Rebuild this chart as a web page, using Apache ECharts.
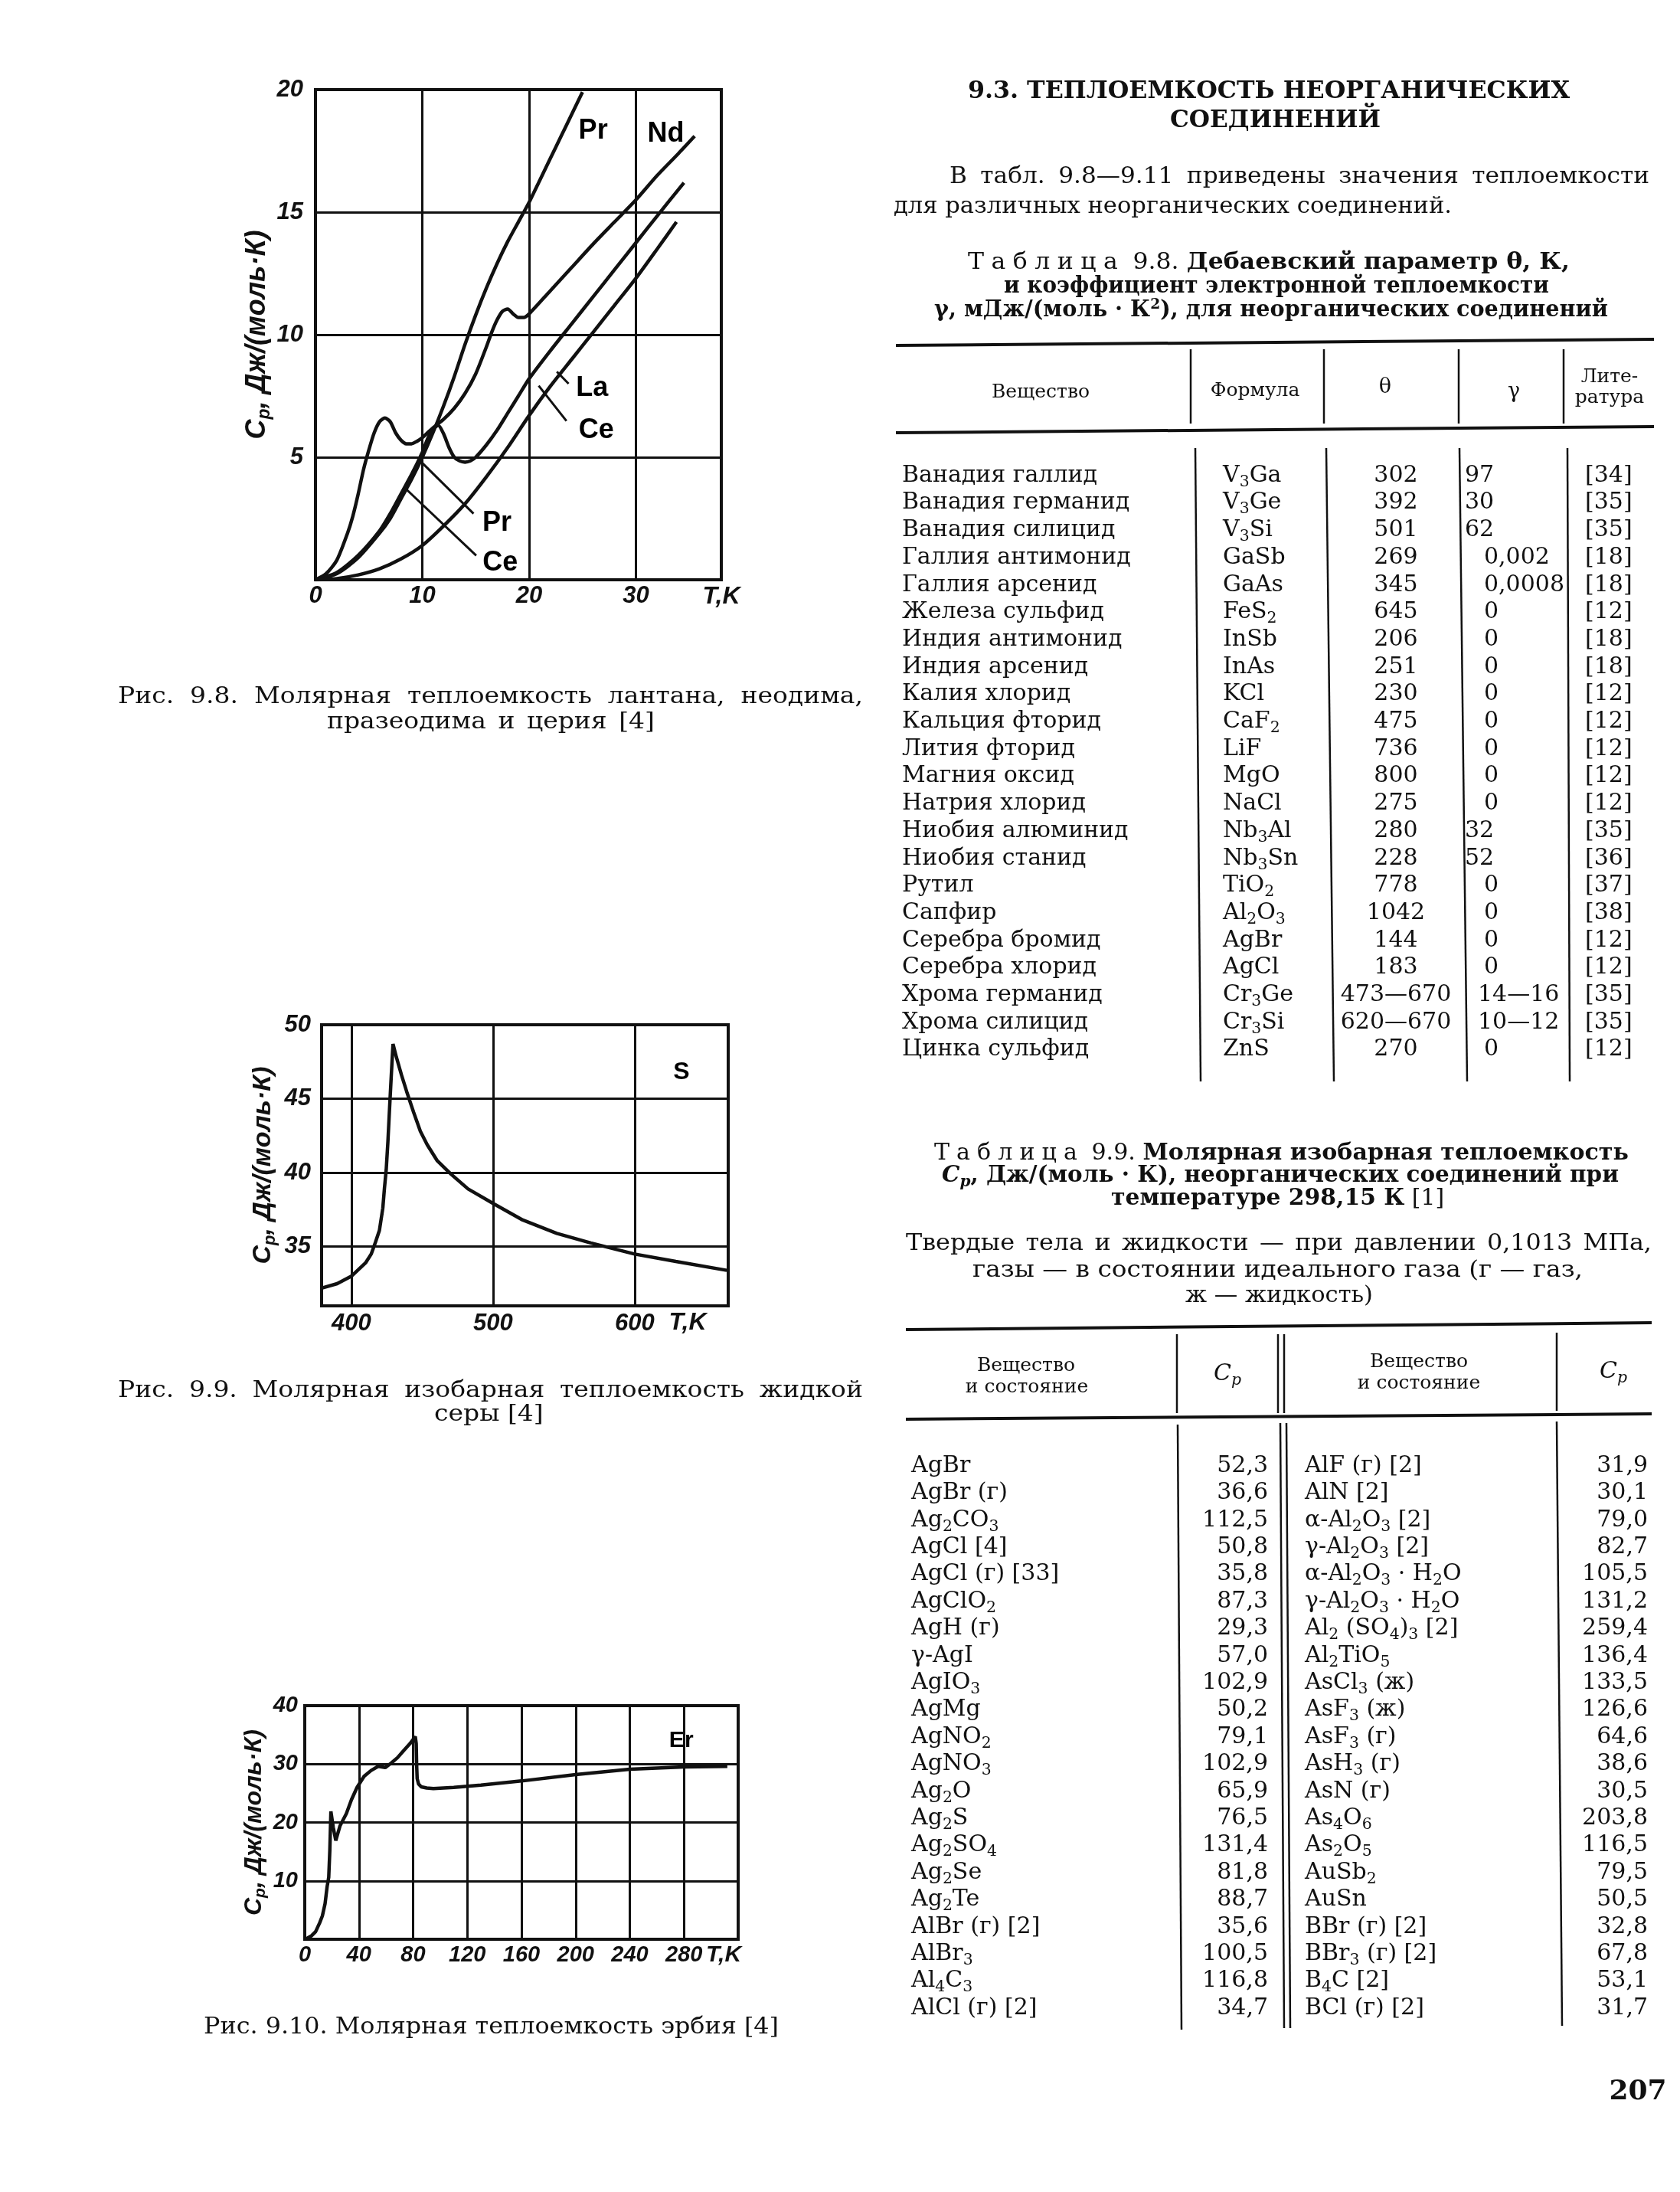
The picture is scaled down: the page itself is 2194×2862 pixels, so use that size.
<!DOCTYPE html>
<html lang="ru">
<head>
<meta charset="utf-8">
<title>9.3. Теплоемкость неорганических соединений</title>
<script src="https://cdn.jsdelivr.net/npm/echarts@6/dist/echarts.min.js"></script>
<style>
html,body{margin:0;padding:0;background:#fff;}
#page{position:relative;width:2194px;height:2862px;overflow:hidden;background:#fff;}
#chart{position:absolute;left:0;top:0;width:2194px;height:2862px;z-index:1;}
#rules{position:absolute;left:0;top:0;width:2194px;height:2862px;z-index:2;pointer-events:none;}
#txt{position:absolute;left:0;top:0;width:2194px;height:2862px;z-index:3;pointer-events:none;}
.t{position:absolute;white-space:nowrap;font-family:"DejaVu Serif","Liberation Serif",serif;color:#111;}
.t sub{font-size:0.68em;vertical-align:-0.3em;line-height:0;}
.t sup{font-size:0.65em;vertical-align:0.55em;line-height:0;}
.sp{letter-spacing:0.3em;font-weight:normal;}
</style>
</head>
<body>
<div id="page">
  <div id="chart"></div>
  <svg id="rules" width="2194" height="2862" xmlns="http://www.w3.org/2000/svg"></svg>
  <div id="txt"></div>
</div>
<script>
// ---------------- Рис. 9.8 : Cp (Дж/(моль·К)) vs T (K) ----------------
const prData = [[0,0],[2,0.25],[4,0.9],[6,1.9],[7,2.5],[8,3.3],[9,4.1],[10,5.0],[11,6.0],[12,7.1],[13,8.3],[14,9.6],[15,10.8],[16,11.9],[17,12.9],[18,13.8],[19,14.6],[20,15.4],[21,16.3],[22,17.2],[23,18.1],[24,19.0],[25,19.9]];
const ndData = [[0,0],[1,0.25],[2,0.8],[3,1.9],[3.5,2.6],[4,3.5],[4.5,4.5],[5,5.3],[5.5,6.0],[6,6.45],[6.5,6.6],[7,6.45],[7.5,6.0],[8,5.7],[8.5,5.55],[9,5.55],[9.5,5.65],[10,5.8],[10.5,6.0],[11,6.2],[12,6.55],[13,7.0],[14,7.6],[15,8.4],[16,9.5],[16.5,10.1],[17,10.6],[17.5,10.95],[18,11.05],[18.5,10.85],[19,10.7],[19.5,10.7],[20,10.85],[22,11.8],[24,12.75],[26,13.7],[28,14.6],[30,15.5],[32,16.5],[34,17.4],[35.5,18.1]];
const ceData = [[0,0],[2,0.3],[4,1.0],[6,2.0],[7,2.7],[8,3.5],[9,4.3],[10,5.2],[10.5,5.75],[11,6.15],[11.5,6.3],[12,5.95],[12.5,5.4],[13,5.0],[13.5,4.85],[14,4.8],[14.5,4.85],[15,5.0],[16,5.5],[17,6.1],[18,6.8],[19,7.5],[20,8.2],[22,9.35],[24,10.45],[26,11.55],[28,12.65],[30,13.75],[32,14.85],[34.5,16.2]];
const laData = [[0,0],[2,0.05],[4,0.2],[6,0.45],[8,0.85],[10,1.4],[12,2.2],[14,3.1],[16,4.2],[18,5.4],[20,6.7],[22,7.9],[24,9.0],[26,10.1],[28,11.2],[30,12.3],[32,13.5],[33.8,14.6]];
const curveLabels98 = [['Pr',26.0,18.3],['Nd',32.8,18.2],['La',25.9,7.8],['Ce',26.3,6.1],['Pr',17.0,2.3],['Ce',17.3,0.67]];
const leaders98 = [[[22.6,8.49],[23.7,8.0]],[[20.9,7.92],[23.5,6.48]],[[9.9,4.81],[14.8,2.7]],[[8.27,3.79],[15.05,0.99]]];

// ---------------- Рис. 9.9 : жидкая сера ----------------
const sData = [[379,32.2],[390,32.5],[400,33.0],[410,33.9],[414,34.5],[417,35.3],[419.8,36.1],[422.2,37.6],[423.4,39.0],[424.6,40.2],[425.8,42.1],[427,44.4],[428.2,46.6],[429.4,48.7],[431.8,47.8],[435.4,46.6],[439,45.5],[443.9,44.1],[448.7,42.8],[453.5,41.9],[460.7,40.8],[470.4,39.9],[482.4,38.9],[500.5,37.9],[521,36.8],[545,35.9],[569,35.25],[600,34.5],[629,34.0],[665,33.4]];
const tempTicks99 = [400,500,600];
const cpTicks99 = [35,40,45,50];
const curveLabels99 = [['S',633,46.8]];

// ---------------- Рис. 9.10 : эрбий ----------------
const erData = [[0,0],[2,0.2],[5,0.6],[8,1.3],[11,2.8],[13,4.0],[15,6.1],[16.5,9.0],[17.7,10.6],[18.5,15.2],[19.3,21.9],[21,19.2],[22.9,16.9],[26,19.4],[30.7,21.5],[34.5,23.9],[38.6,26.0],[43.8,27.9],[49,28.9],[54.2,29.6],[59.4,29.4],[64,30.2],[68.5,31.1],[73,32.3],[77.7,33.5],[81.6,34.7],[82.3,33.5],[82.6,30.0],[83,27.5],[84,26.6],[86,26.1],[90,25.9],[95,25.8],[110,26.0],[130,26.4],[160,27.1],[200,28.2],[240,29.1],[280,29.5],[312,29.6]];
const curveLabels910 = [['Er',278,34.0]];

// ---------------- Таблица 9.8 ----------------
const t98Names = ['Ванадия галлид','Ванадия германид','Ванадия силицид','Галлия антимонид','Галлия арсенид','Железа сульфид','Индия антимонид','Индия арсенид','Калия хлорид','Кальция фторид','Лития фторид','Магния оксид','Натрия хлорид','Ниобия алюминид','Ниобия станид','Рутил','Сапфир','Серебра бромид','Серебра хлорид','Хрома германид','Хрома силицид','Цинка сульфид'];
const t98Formulas = ['V3Ga','V3Ge','V3Si','GaSb','GaAs','FeS2','InSb','InAs','KCl','CaF2','LiF','MgO','NaCl','Nb3Al','Nb3Sn','TiO2','Al2O3','AgBr','AgCl','Cr3Ge','Cr3Si','ZnS'];
const t98Theta = ['302','392','501','269','345','645','206','251','230','475','736','800','275','280','228','778','1042','144','183','473—670','620—670','270'];
const t98Gamma = ['97','30','62','0,002','0,0008','0','0','0','0','0','0','0','0','32','52','0','0','0','0','14—16','10—12','0'];
const t98Refs = ['[34]','[35]','[35]','[18]','[18]','[12]','[18]','[18]','[12]','[12]','[12]','[12]','[12]','[35]','[36]','[37]','[38]','[12]','[12]','[35]','[35]','[12]'];

// ---------------- Таблица 9.9 ----------------
const t99LeftNames = ['AgBr','AgBr (г)','Ag2CO3','AgCl [4]','AgCl (г) [33]','AgClO2','AgH (г)','γ-AgI','AgIO3','AgMg','AgNO2','AgNO3','Ag2O','Ag2S','Ag2SO4','Ag2Se','Ag2Te','AlBr (г) [2]','AlBr3','Al4C3','AlCl (г) [2]'];
const t99LeftCp = ['52,3','36,6','112,5','50,8','35,8','87,3','29,3','57,0','102,9','50,2','79,1','102,9','65,9','76,5','131,4','81,8','88,7','35,6','100,5','116,8','34,7'];
const t99RightNames = ['AlF (г) [2]','AlN [2]','α-Al2O3 [2]','γ-Al2O3 [2]','α-Al2O3 · H2O','γ-Al2O3 · H2O','Al2 (SO4)3 [2]','Al2TiO5','AsCl3 (ж)','AsF3 (ж)','AsF3 (г)','AsH3 (г)','AsN (г)','As4O6','As2O5','AuSb2','AuSn','BBr (г) [2]','BBr3 (г) [2]','B4C [2]','BCl (г) [2]'];
const t99RightCp = ['31,9','30,1','79,0','82,7','105,5','131,2','259,4','136,4','133,5','126,6','64,6','38,6','30,5','203,8','116,5','79,5','50,5','32,8','67,8','53,1','31,7'];

// ================= ECharts =================
const chart = echarts.init(document.getElementById('chart'), null, {renderer:'canvas'});
const INK = '#111';
const lab = {color:INK, fontFamily:'Liberation Sans', fontStyle:'italic', fontWeight:'bold', fontSize:31};
const mkGrid = (l,t,w,h) => ({left:l, top:t, width:w, height:h, show:true, borderColor:INK, borderWidth:4, backgroundColor:'rgba(0,0,0,0)', containLabel:false});
const split = {show:true, lineStyle:{color:INK, width:3, type:'solid'}};
const noLine = {show:false};
const nameRich = (fs) => ({
  a:{fontFamily:'Liberation Sans', fontStyle:'italic', fontWeight:'bold', fontSize:fs, color:INK, lineHeight:fs+6, verticalAlign:'middle'},
  b:{fontFamily:'Liberation Sans', fontStyle:'italic', fontWeight:'bold', fontSize:Math.round(fs*0.65), color:INK, lineHeight:12, verticalAlign:'bottom'}
});
const yName = '{a|C}{b|p}{a|, Дж/(моль·К)}';
const tkName = (gap, fs) => ({name:'T,K', nameLocation:'end', nameGap:gap,
  nameTextStyle:{...lab, fontSize:fs, align:'center', verticalAlign:'top', padding:[6,0,0,0]}});
const lineS = (name, data, idx, smooth) => ({type:'line', name, xAxisIndex:idx, yAxisIndex:idx, data,
  showSymbol:false, symbol:'none', smooth:smooth, lineStyle:{color:INK, width:4.5}, z:5, silent:true, clip:true});
const labelS = (arr, idx, fs) => ({type:'scatter', xAxisIndex:idx, yAxisIndex:idx, symbolSize:1, silent:true, z:6,
  itemStyle:{color:'rgba(0,0,0,0)'}, data: arr.map(c => ({name:c[0], value:[c[1], c[2]]})),
  label:{show:true, position:'inside', formatter:'{b}', color:'#000', opacity:1, textBorderWidth:0, textBorderColor:'rgba(0,0,0,0)',
    textShadowBlur:0, fontFamily:'Liberation Sans', fontWeight:'bold', fontSize:fs}});

const option = {
  animation:false,
  backgroundColor:'#fff',
  grid:[ mkGrid(412,117,530,640), mkGrid(420,1338,531,367), mkGrid(398,2227,566,305) ],
  xAxis:[
    {gridIndex:0, type:'value', min:0, max:38, interval:10, axisLine:noLine, axisTick:noLine, splitLine:split,
     axisLabel:{...lab, margin:6, showMaxLabel:false}, ...tkName(0,32)},
    {gridIndex:1, type:'value', min:379, max:666, axisLine:noLine, axisTick:{show:false, customValues:tempTicks99}, splitLine:noLine,
     axisLabel:{...lab, margin:8, customValues:tempTicks99}, ...tkName(-53,32)},
    {gridIndex:2, type:'value', min:0, max:320, interval:40, axisLine:noLine, axisTick:noLine, splitLine:split,
     axisLabel:{...lab, fontSize:29, margin:6, showMaxLabel:false}, ...tkName(-19,30)}
  ],
  yAxis:[
    {gridIndex:0, type:'value', min:0, max:20, interval:5, axisLine:noLine, axisTick:noLine, splitLine:split,
     axisLabel:{...lab, margin:16, showMinLabel:false},
     name:yName, nameLocation:'middle', nameRotate:90, nameGap:76, nameTextStyle:{rich:nameRich(36), align:'center', verticalAlign:'middle'}},
    {gridIndex:1, type:'value', min:31, max:50, axisLine:noLine, axisTick:{show:false, customValues:cpTicks99}, splitLine:noLine,
     axisLabel:{...lab, margin:14, customValues:cpTicks99},
     name:yName, nameLocation:'middle', nameRotate:90, nameGap:76, nameTextStyle:{rich:nameRich(34), align:'center', verticalAlign:'middle'}},
    {gridIndex:2, type:'value', min:0, max:40, interval:10, axisLine:noLine, axisTick:noLine, splitLine:split,
     axisLabel:{...lab, fontSize:29, margin:9, showMinLabel:false},
     name:yName, nameLocation:'middle', nameRotate:90, nameGap:66, nameTextStyle:{rich:nameRich(32), align:'center', verticalAlign:'middle'}}
  ],
  series:[
    lineS('Pr', prData, 0, 0.25),
    lineS('Nd', ndData, 0, 0.25),
    lineS('Ce', ceData, 0, 0.25),
    Object.assign(lineS('La', laData, 0, 0.25), {markLine:{silent:true, symbol:['none','none'], label:{show:false},
      lineStyle:{color:INK, width:3, type:'solid'}, emphasis:{disabled:true},
      data: leaders98.map(p => [{coord:p[0]}, {coord:p[1]}])}}),
    labelS(curveLabels98, 0, 36),
    Object.assign(lineS('S', sData, 1, false), {markLine:{silent:true, symbol:['none','none'], label:{show:false},
      lineStyle:{color:INK, width:3, type:'solid'}, emphasis:{disabled:true},
      data: tempTicks99.map(v => ({xAxis:v})).concat(cpTicks99.filter(v => v < 50).map(v => ({yAxis:v})))}}),
    labelS(curveLabels99, 1, 32),
    lineS('Er', erData, 2, false),
    labelS(curveLabels910, 2, 30)
  ]
};
chart.setOption(option);

// ================= page text =================
const layer = document.getElementById('txt');
const svg = document.getElementById('rules');
function chem(s){ return s.replace(/([A-Za-z\)])(\d+)/g, '$1<sub>$2</sub>'); }
function T(html, x, y, o){
  o = o || {};
  const size = o.size || 30;
  const sx = o.sx || 1;
  const d = document.createElement('div');
  d.className = 't';
  d.innerHTML = html;
  d.style.fontSize = size + 'px';
  d.style.lineHeight = Math.round(size*1.15) + 'px';
  if (o.bold) d.style.fontWeight = 'bold';
  if (o.italic) d.style.fontStyle = 'italic';
  layer.appendChild(d);
  const r = d.getBoundingClientRect();
  const nat = r.width, h = r.height;
  let W = nat * sx;
  d.style.transformOrigin = '0 50%';
  if (o.w) {
    W = o.w;
    if (o.justify && nat * sx < o.w - 2) {
      d.style.whiteSpace = 'normal';
      d.style.width = (o.w / sx) + 'px';
      d.style.textAlign = 'justify';
      d.style.textAlignLast = 'justify';
      if (sx !== 1) d.style.transform = 'scaleX(' + sx + ')';
    } else {
      d.style.transform = 'scaleX(' + (o.w / nat).toFixed(4) + ')';
    }
  } else if (sx !== 1) {
    d.style.transform = 'scaleX(' + sx + ')';
  }
  const al = o.align || 'left';
  const left = al === 'center' ? x - W/2 : (al === 'right' ? x - W : x);
  d.style.left = left + 'px';
  d.style.top = (y - h/2 + size*0.04) + 'px';
}
function L(x1,y1,x2,y2,w){
  const l = document.createElementNS('http://www.w3.org/2000/svg','line');
  l.setAttribute('x1',x1); l.setAttribute('y1',y1); l.setAttribute('x2',x2); l.setAttribute('y2',y2);
  l.setAttribute('stroke','#111'); l.setAttribute('stroke-width', w);
  svg.appendChild(l);
}

// heading and paragraph
T('9.3. ТЕПЛОЕМКОСТЬ НЕОРГАНИЧЕСКИХ', 1657, 116, {size:32, bold:true, align:'center', w:786});
T('СОЕДИНЕНИЙ', 1665, 154, {size:32, bold:true, align:'center', w:275});
T('В табл. 9.8—9.11 приведены значения теплоемкости', 1240, 227, {w:914, justify:true, sx:1.04});
T('для различных неорганических соединений.', 1167, 266, {w:729});

// table 9.8 caption
T('<span class="sp">Таблица</span> 9.8. <b>Дебаевский параметр θ, К,</b>', 1657, 340, {size:29, align:'center', w:786});
T('<b>и коэффициент электронной теплоемкости</b>', 1667, 371, {size:29, align:'center', w:712});
T('<b>γ, мДж/(моль · К<sup>2</sup>), для неорганических соединений</b>', 1660, 402, {size:29, align:'center', w:880});

// table 9.8 rules
L(1170,451,2160,443,4); L(1170,565,2160,557,4);
[[1555,1555],[1729,1729],[1905,1905],[2042,2042]].forEach(v => L(v[0],456,v[1],553,2.5));
L(1561,585,1568,1412,2.5); L(1732,585,1742,1412,2.5); L(1906,585,1916,1412,2.5); L(2047,585,2050,1412,2.5);
// table 9.8 header
T('Вещество', 1359, 509, {size:25, align:'center'});
T('Формула', 1639, 507, {size:25, align:'center'});
T('θ', 1809, 502, {size:27, align:'center'});
T('γ', 1977, 508, {size:27, align:'center'});
T('Лите-', 2102, 489, {size:25, align:'center'});
T('ратура', 2102, 516, {size:25, align:'center'});
// table 9.8 body
function gammaX(g){ if (/^\d\d$/.test(g)) return 1913; if (g.indexOf('—') >= 0) return 1930; return 1938; }
t98Names.forEach((n,i) => {
  const y = 617 + i*35.7;
  T(n, 1178, y);
  T(chem(t98Formulas[i]), 1597, y);
  T(t98Theta[i], 1823, y, {align:'center'});
  T(t98Gamma[i], gammaX(t98Gamma[i]), y);
  T(t98Refs[i], 2070, y);
});

// table 9.9 caption
T('<span class="sp">Таблица</span> 9.9. <b>Молярная изобарная теплоемкость</b>', 1673, 1503, {size:29, align:'center', w:907});
T('<b><i>C<sub>p</sub></i>, Дж/(моль · К), неорганических соединений при</b>', 1672, 1532, {size:29, align:'center', w:884});
T('<b>температуре 298,15 К</b> [1]', 1668, 1562, {size:29, align:'center', w:435});
T('Твердые тела и жидкости — при давлении 0,1013 МПа,', 1183, 1620, {w:974, justify:true, sx:1.06});
T('газы — в состоянии идеального газа (г — газ,', 1668, 1655, {align:'center', w:797});
T('ж — жидкость)', 1670, 1688, {align:'center', w:245});
// table 9.9 rules
L(1183,1736,2157,1727,4); L(1183,1853,2157,1846,4);
L(1537,1742,1537,1845,2.5); L(1669,1742,1669,1845,2.5); L(1677,1742,1677,1845,2.5); L(2033,1740,2033,1842,2.5);
L(1538,1860,1543,2650,2.5); L(1672,1858,1677,2648,2.5); L(1680,1858,1685,2648,2.5); L(2033,1856,2040,2645,2.5);
// table 9.9 header
T('Вещество', 1340, 1780, {size:25, align:'center'});
T('и состояние', 1341, 1808, {size:25, align:'center'});
T('<i>C<sub>p</sub></i>', 1603, 1790, {size:30, align:'center'});
T('Вещество', 1853, 1775, {size:25, align:'center'});
T('и состояние', 1853, 1803, {size:25, align:'center'});
T('<i>C<sub>p</sub></i>', 2107, 1787, {size:30, align:'center'});
// table 9.9 body
t99LeftNames.forEach((n,i) => {
  const y = 1910 + i*35.4;
  T(chem(n), 1190, y);
  T(t99LeftCp[i], 1656, y, {align:'right'});
  T(chem(t99RightNames[i]), 1704, y);
  T(t99RightCp[i], 2152, y, {align:'right'});
});

// figure captions
T('Рис. 9.8. Молярная теплоемкость лантана, неодима,', 154, 906, {w:973, justify:true, sx:1.1});
T('празеодима  и  церия [4]', 641, 939, {align:'center', w:428, justify:true, sx:1.1});
T('Рис. 9.9. Молярная изобарная теплоемкость жидкой', 154, 1812, {w:973, justify:true, sx:1.1});
T('серы [4]', 638, 1843, {align:'center', sx:1.1});
T('Рис. 9.10. Молярная теплоемкость эрбия [4]', 641, 2643, {align:'center', w:751, justify:true, sx:1.1});
T('207', 2139, 2727, {size:36, bold:true, align:'center'});
</script>
</body>
</html>
